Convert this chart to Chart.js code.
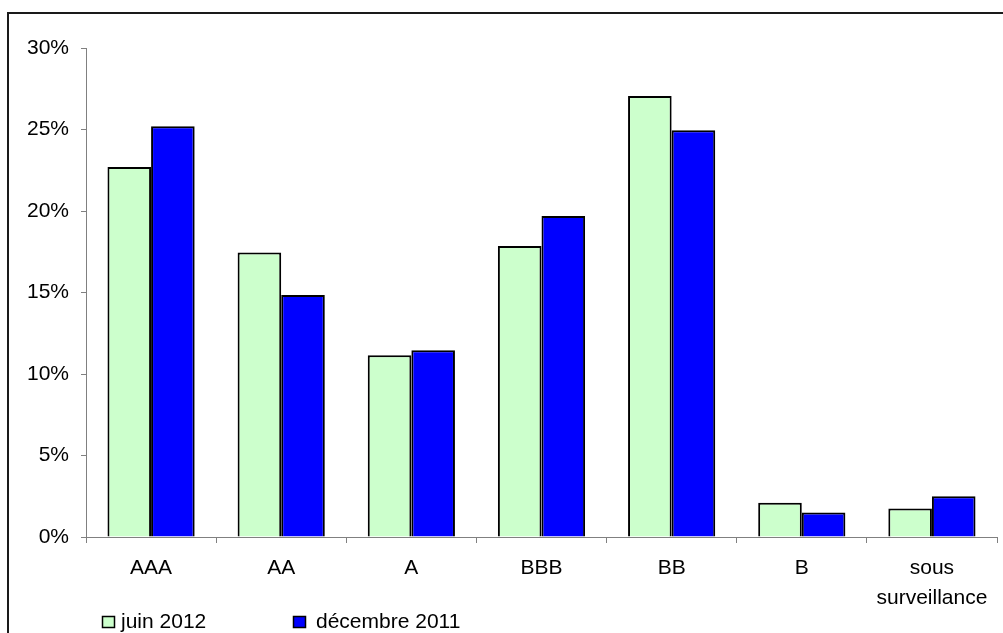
<!DOCTYPE html>
<html>
<head>
<meta charset="utf-8">
<script src="https://cdn.jsdelivr.net/npm/chart.js@4/dist/chart.umd.min.js"></script>
<style>
  html, body { margin: 0; padding: 0; background: #fff; }
  canvas { display: block; }
</style>
</head>
<body>
<canvas id="c" width="1003" height="633"></canvas>
<script>
// Rating categories
const categories = ['AAA', 'AA', 'A', 'BBB', 'BB', 'B', ['sous', 'surveillance']];
// Share of portfolio by rating (%)
const juin2012 = [22.7, 17.45, 11.15, 17.85, 27.05, 2.1, 1.75];
const decembre2011 = [25.2, 14.85, 11.45, 19.7, 24.95, 1.5, 2.5];
const seriesLabels = ['juin 2012', 'décembre 2011'];
const seriesColors = ['#CCFFCC', '#0000FF'];
const yTicks = [0, 5, 10, 15, 20, 25, 30];

const FONT = 'Liberation Sans, Arial, sans-serif';

// Outer frame around the whole chart
const framePlugin = {
  id: 'frame',
  afterDraw(chart) {
    const ctx = chart.ctx;
    ctx.save();
    ctx.strokeStyle = '#1a1a1a';
    ctx.lineWidth = 2;
    ctx.strokeRect(8, 13, 1010, 640);
    ctx.restore();
  }
};

// Legend drawn at the lower left, one item after another
const legendPlugin = {
  id: 'bottomLegend',
  afterDraw(chart) {
    const ctx = chart.ctx;
    const boxX = [102, 293];
    const textX = [121, 316];
    ctx.save();
    ctx.font = '21px ' + FONT;
    ctx.textBaseline = 'alphabetic';
    chart.data.datasets.forEach((ds, i) => {
      const x = boxX[i];
      ctx.fillStyle = ds.backgroundColor;
      ctx.fillRect(x, 616, 12, 12);
      ctx.strokeStyle = '#000';
      ctx.lineWidth = 1.5;
      ctx.strokeRect(x + 0.5, 616.5, 12, 11);
      ctx.fillStyle = '#000';
      ctx.fillText(ds.label, textX[i], 628);
    });
    ctx.restore();
  }
};

new Chart(document.getElementById('c'), {
  type: 'bar',
  data: {
    labels: categories,
    datasets: [
      { label: seriesLabels[0], data: juin2012, backgroundColor: seriesColors[0], borderColor: '#000', borderWidth: 2 },
      { label: seriesLabels[1], data: decembre2011, backgroundColor: seriesColors[1], borderColor: '#000', borderWidth: 2 }
    ]
  },
  options: {
    responsive: false,
    animation: false,
    devicePixelRatio: 1,
    layout: { padding: { top: 48, right: 6, left: 0, bottom: 0 } },
    datasets: { bar: { categoryPercentage: 0.67, barPercentage: 1.0 } },
    plugins: {
      legend: { display: false },
      tooltip: { enabled: false },
      title: { display: false }
    },
    scales: {
      x: {
        grid: { display: true, drawOnChartArea: false, drawTicks: true, tickLength: 6, tickColor: '#808080', offset: true },
        border: { display: true, color: '#808080', width: 1 },
        ticks: { color: '#000', font: { family: FONT, size: 21, lineHeight: 1.4 }, padding: 11, maxRotation: 0, autoSkip: false },
        afterFit(scale) { scale.height = 96; }
      },
      y: {
        min: 0,
        max: 30,
        afterBuildTicks(scale) { scale.ticks = yTicks.map(v => ({ value: v })); },
        grid: { display: true, drawOnChartArea: false, drawTicks: true, tickLength: 5, tickColor: '#808080' },
        border: { display: true, color: '#808080', width: 1 },
        ticks: { color: '#000', font: { family: FONT, size: 21 }, padding: 12, callback: v => v + '%' },
        afterFit(scale) { scale.width = 86; }
      }
    }
  },
  plugins: [framePlugin, legendPlugin]
});
</script>
</body>
</html>
